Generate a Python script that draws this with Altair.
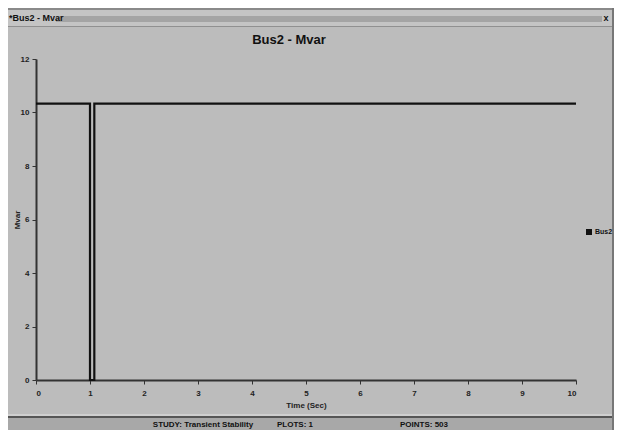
import altair as alt
import pandas as pd

# data
time_s = [0.0, 1.0, 1.0, 1.08, 1.08, 10.0]
mvar = [10.33, 10.33, 0.0, 0.0, 10.33, 10.33]
x_ticks = list(range(0, 11))
y_ticks = [0, 2, 4, 6, 8, 10, 12]
series_name = "Bus2"
chart_title = "Bus2 - Mvar"
window_title = "*Bus2 - Mvar"
status_texts = ["STUDY: Transient Stability", "PLOTS: 1", "POINTS: 503"]

df = pd.DataFrame({"t": time_s, "v": mvar, "i": list(range(len(time_s)))})

W, H = 540, 321
FONT = "Liberation Sans"
BG = "#bcbcbc"

xs = alt.Scale(domain=[0, 10], nice=False)
ys = alt.Scale(domain=[0, 12], nice=False)

line = alt.Chart(df).mark_line(color="#111111", strokeWidth=2.2, interpolate="linear").encode(
    x=alt.X("t:Q", scale=xs, axis=alt.Axis(
        values=x_ticks, title="Time (Sec)", grid=False, labelFontSize=8, labelFont=FONT,
        labelFontWeight="bold", titleFont=FONT, titleFontSize=8, titleFontWeight="bold",
        titlePadding=4, domainColor="#333333", domainWidth=2, tickColor="#333333",
        tickSize=4, labelColor="#222222", titleColor="#222222", labelPadding=5)),
    y=alt.Y("v:Q", scale=ys, axis=alt.Axis(
        values=y_ticks, title="Mvar", grid=False, labelFontSize=8, labelFont=FONT,
        labelFontWeight="bold", titleFont=FONT, titleFontSize=8, titleFontWeight="bold",
        titleX=-19, titleBaseline="middle", domainColor="#333333", domainWidth=2,
        tickColor="#333333", tickSize=4, labelColor="#222222", titleColor="#222222",
        labelPadding=3)),
    order="i:Q",
)

# window chrome (decoration)
def rect(x, x2, y, y2, color):
    return alt.Chart(pd.DataFrame({"a": [0]})).mark_rect(color=color).encode(
        x=alt.value(x), x2=alt.value(x2), y=alt.value(y), y2=alt.value(y2))

def txt(s, x, y, size=8, weight="bold", align="center", color="#111111"):
    return alt.Chart(pd.DataFrame({"s": [s]})).mark_text(
        font=FONT, fontSize=size, fontWeight=weight, align=align, baseline="middle",
        color=color).encode(text="s:N", x=alt.value(x), y=alt.value(y))

chrome = [
    rect(-28, 578, -51, -49, "#8a8a8a"),
    rect(-28, 578, -49, -33, "#c4c4c4"),
    rect(20, 566, -43, -37, "#a4a4a4"),
    rect(-28, 578, -33, -32, "#909090"),
    rect(-28, 578, 355, 357, "#cfcfcf"),
    rect(-28, 578, 357, 359, "#555555"),
    rect(-28, 578, 359, 373, "#a8a8a8"),
    rect(576, 578, -51, 373, "#777777"),
    txt(window_title, -27, -41, size=9, align="left"),
    txt("x", 570, -41, size=9),
    txt(chart_title, 253, -19, size=13),
    txt(status_texts[0], 167, 366, size=8),
    txt(status_texts[1], 259, 366, size=8),
    txt(status_texts[2], 388, 366, size=8),
    rect(550, 556, 170, 176, "#111111"),
    txt(series_name, 559, 173, size=7, align="left"),
]

chart = alt.layer(*chrome, line).properties(
    width=W, height=H,
    background=BG,
    autosize=alt.AutoSizeParams(type="none"),
    padding={"left": 28, "top": 51, "right": 38, "bottom": 50},
).configure_view(stroke=None, fill=BG)

chart.save("out.html", embed_options={"renderer": "svg", "actions": False})
